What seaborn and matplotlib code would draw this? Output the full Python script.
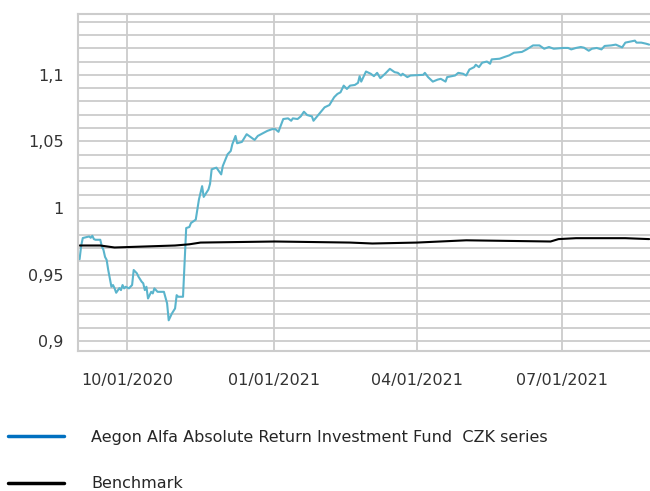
import pandas as pd
import matplotlib
matplotlib.use("Agg")
import matplotlib.pyplot as plt
import matplotlib.dates as mdates
from matplotlib.ticker import MultipleLocator, FuncFormatter
from matplotlib.lines import Line2D
import seaborn as sns

fund_dates = [
    "2020-09-01", "2020-09-02", "2020-09-03", "2020-09-07", "2020-09-08", "2020-09-09",
    "2020-09-10", "2020-09-11", "2020-09-14", "2020-09-15", "2020-09-16", "2020-09-17",
    "2020-09-18", "2020-09-19", "2020-09-21", "2020-09-22", "2020-09-23", "2020-09-24",
    "2020-09-26", "2020-09-27", "2020-09-28", "2020-09-29", "2020-09-30", "2020-10-02",
    "2020-10-04", "2020-10-05", "2020-10-07", "2020-10-08", "2020-10-10", "2020-10-11",
    "2020-10-12", "2020-10-13", "2020-10-14", "2020-10-16", "2020-10-17", "2020-10-18",
    "2020-10-20", "2020-10-24", "2020-10-26", "2020-10-27", "2020-10-29", "2020-10-31",
    "2020-11-01", "2020-11-02", "2020-11-05", "2020-11-06", "2020-11-07", "2020-11-09",
    "2020-11-10", "2020-11-13", "2020-11-15", "2020-11-17", "2020-11-18", "2020-11-21",
    "2020-11-22", "2020-11-23", "2020-11-26", "2020-11-29", "2020-11-30", "2020-12-03",
    "2020-12-05", "2020-12-06", "2020-12-08", "2020-12-09", "2020-12-12", "2020-12-15",
    "2020-12-20", "2020-12-22", "2020-12-28", "2020-12-31", "2021-01-02", "2021-01-04",
    "2021-01-05", "2021-01-07", "2021-01-10", "2021-01-12", "2021-01-13", "2021-01-16",
    "2021-01-18", "2021-01-20", "2021-01-22", "2021-01-25", "2021-01-26", "2021-01-29",
    "2021-02-02", "2021-02-05", "2021-02-08", "2021-02-10", "2021-02-12", "2021-02-14",
    "2021-02-16", "2021-02-18", "2021-02-21", "2021-02-23", "2021-02-24", "2021-02-25",
    "2021-02-28", "2021-03-03", "2021-03-05", "2021-03-07", "2021-03-09", "2021-03-12",
    "2021-03-15", "2021-03-18", "2021-03-20", "2021-03-22", "2021-03-23", "2021-03-26",
    "2021-03-28", "2021-04-05", "2021-04-06", "2021-04-08", "2021-04-11", "2021-04-14",
    "2021-04-16", "2021-04-19", "2021-04-20", "2021-04-25", "2021-04-27", "2021-04-30",
    "2021-05-02", "2021-05-04", "2021-05-07", "2021-05-08", "2021-05-10", "2021-05-12",
    "2021-05-15", "2021-05-17", "2021-05-18", "2021-05-23", "2021-05-26", "2021-05-29",
    "2021-06-01", "2021-06-06", "2021-06-09", "2021-06-13", "2021-06-17", "2021-06-20",
    "2021-06-23", "2021-06-26", "2021-07-02", "2021-07-05", "2021-07-07", "2021-07-10",
    "2021-07-13", "2021-07-15", "2021-07-18", "2021-07-20", "2021-07-23", "2021-07-26",
    "2021-07-28", "2021-08-01", "2021-08-04", "2021-08-08", "2021-08-10", "2021-08-14",
    "2021-08-16", "2021-08-17", "2021-08-20", "2021-08-23", "2021-08-25",
]
fund_values = [
    0.9615, 0.9716, 0.9774, 0.9786, 0.9776, 0.9791,
    0.9766, 0.9761, 0.9761, 0.9710, 0.9685, 0.9632,
    0.9610, 0.9534, 0.9408, 0.9421, 0.9396, 0.9363,
    0.9398, 0.9383, 0.9421, 0.9396, 0.9408, 0.9396,
    0.9421, 0.9534, 0.9509, 0.9484, 0.9446, 0.9434,
    0.9383, 0.9408, 0.9320, 0.9370, 0.9358, 0.9396,
    0.9370, 0.9370, 0.9283, 0.9156, 0.9207, 0.9245,
    0.9345, 0.9333, 0.9333, 0.9585, 0.9849, 0.9857,
    0.9887, 0.9912, 1.0063, 1.0164, 1.0083, 1.0139,
    1.0182, 1.0290, 1.0303, 1.0252, 1.0315, 1.0403,
    1.0428, 1.0479, 1.0541, 1.0486, 1.0496, 1.0554,
    1.0511, 1.0541, 1.0579, 1.0592, 1.0592, 1.0572,
    1.0605, 1.0668, 1.0673, 1.0655, 1.0673, 1.0668,
    1.0688, 1.0723, 1.0698, 1.0688, 1.0655, 1.0698,
    1.0756, 1.0773, 1.0832, 1.0856, 1.0869, 1.0919,
    1.0894, 1.0919, 1.0924, 1.0940, 1.0990, 1.0949,
    1.1025, 1.1008, 1.0990, 1.1015, 1.0975, 1.1008,
    1.1045, 1.1020, 1.1015, 1.0995, 1.1008, 1.0983,
    1.0995, 1.1000, 1.1015, 1.0983, 1.0949, 1.0964,
    1.0970, 1.0949, 1.0983, 1.0995, 1.1015, 1.1008,
    1.0995, 1.1040, 1.1058, 1.1076, 1.1058, 1.1091,
    1.1100, 1.1083, 1.1116, 1.1121, 1.1134, 1.1146,
    1.1166, 1.1172, 1.1191, 1.1221, 1.1221, 1.1196,
    1.1209, 1.1196, 1.1202, 1.1202, 1.1191, 1.1202,
    1.1209, 1.1204, 1.1181, 1.1196, 1.1202, 1.1191,
    1.1217, 1.1221, 1.1227, 1.1206, 1.1242, 1.1252,
    1.1257, 1.1242, 1.1242, 1.1234, 1.1227,
]

bench_dates = [
    "2020-09-01", "2020-09-14", "2020-09-23", "2020-10-31", "2020-11-09", "2020-11-16",
    "2021-01-02", "2021-02-18", "2021-03-04", "2021-04-01", "2021-05-02", "2021-06-24",
    "2021-06-29", "2021-07-10", "2021-08-10", "2021-08-25",
]
bench_values = [
    0.9718, 0.9718, 0.9703, 0.9718, 0.9727, 0.9740,
    0.9748, 0.9740, 0.9733, 0.9740, 0.9757, 0.9748,
    0.9766, 0.9773, 0.9773, 0.9766,
]

fund_name = "Aegon Alfa Absolute Return Investment Fund  CZK series"
bench_name = "Benchmark"

df = pd.concat([
    pd.DataFrame({"date": pd.to_datetime(fund_dates), "value": fund_values, "series": fund_name}),
    pd.DataFrame({"date": pd.to_datetime(bench_dates), "value": bench_values, "series": bench_name}),
])

sns.set_style("white")
plt.rcParams["font.family"] = ["DejaVu Sans"]
grid_c = "#cccccc"

fig = plt.figure(figsize=(6.5, 4.91), dpi=100)
ax = fig.add_axes([0.12, 0.285, 0.88, 0.6865])

sns.lineplot(data=df, x="date", y="value", hue="series",
             palette={fund_name: "#5ab4cc", bench_name: "#000000"},
             linewidth=1.5, legend=False, ax=ax)

ax.set_xlim(pd.Timestamp("2020-08-31"), pd.Timestamp("2021-08-25 12:00"))
ax.set_ylim(0.8925, 1.1457)

ax.xaxis.set_major_locator(mdates.MonthLocator(bymonth=[1, 4, 7, 10]))
ax.xaxis.set_major_formatter(mdates.DateFormatter("%m/%d/%Y"))
ax.yaxis.set_major_locator(MultipleLocator(0.05))
ax.yaxis.set_minor_locator(MultipleLocator(0.01))
ax.yaxis.set_major_formatter(FuncFormatter(lambda v, p: f"{v:g}".replace(".", ",")))

ax.grid(True, which="major", axis="x", color=grid_c, lw=1.3)
ax.grid(True, which="both", axis="y", color=grid_c, lw=1.3)
ax.set_axisbelow(True)

for side in ["left", "bottom", "top"]:
    ax.spines[side].set_color(grid_c)
    ax.spines[side].set_linewidth(1.5)
ax.spines["right"].set_visible(False)

ax.tick_params(axis="y", which="major", length=7, width=1.3, color=grid_c,
               labelsize=11.5, labelcolor="#333333", pad=3.5)
ax.tick_params(axis="y", which="minor", length=2.5, width=1.3, color=grid_c)
ax.tick_params(axis="x", which="major", length=6.5, width=1.3, color=grid_c,
               labelsize=11.5, labelcolor="#333333", pad=9.5)
ax.set_xlabel("")
ax.set_ylabel("")

handles = [Line2D([], [], color="#0070c0", lw=2.5),
           Line2D([], [], color="#000000", lw=2.5)]
fig.legend(handles, [fund_name, bench_name], loc="upper left",
           bbox_to_anchor=(8 / 650, 1 - 430 / 491), frameon=False,
           fontsize=11.5, handlelength=3.5, handletextpad=1.7,
           labelspacing=1.95, borderpad=0, borderaxespad=0)

plt.savefig("out.png", dpi=100)
